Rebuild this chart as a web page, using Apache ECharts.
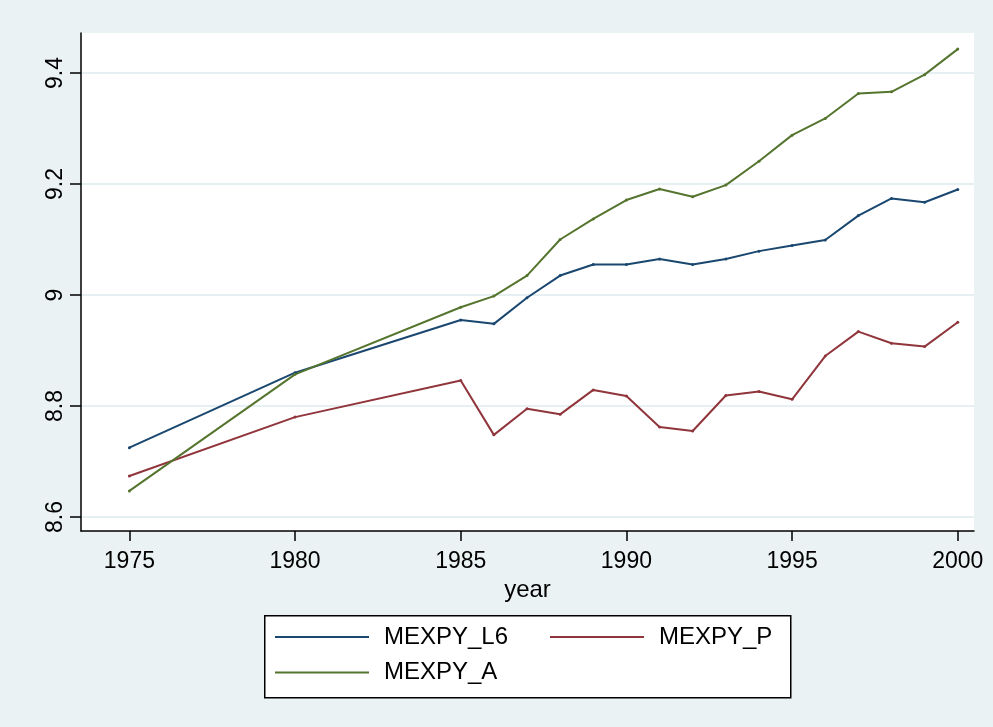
<!DOCTYPE html>
<html>
<head>
<meta charset="utf-8">
<title>MEXPY</title>
<script src="https://cdn.jsdelivr.net/npm/echarts@6/dist/echarts.min.js"></script>
<style>
  html, body { margin: 0; padding: 0; background: #eaf2f3; }
  #chart { width: 993px; height: 727px; }
</style>
</head>
<body>
<div id="chart"></div>
<script>
// data
const years = [1975, 1980, 1985, 1986, 1987, 1988, 1989, 1990, 1991, 1992, 1993, 1994, 1995, 1996, 1997, 1998, 1999, 2000];
const mexpyL6 = [8.725, 8.860, 8.955, 8.948, 8.995, 9.035, 9.055, 9.055, 9.065, 9.055, 9.065, 9.079, 9.089, 9.099, 9.143, 9.174, 9.167, 9.190];
const mexpyP = [8.674, 8.780, 8.846, 8.748, 8.795, 8.785, 8.829, 8.818, 8.762, 8.755, 8.819, 8.826, 8.812, 8.890, 8.934, 8.913, 8.907, 8.951];
const mexpyA = [8.647, 8.857, 8.978, 8.998, 9.035, 9.100, 9.137, 9.171, 9.191, 9.177, 9.198, 9.241, 9.288, 9.318, 9.363, 9.366, 9.397, 9.443];
const xTicks = [1975, 1980, 1985, 1990, 1995, 2000];
const yTicks = [8.6, 8.8, 9, 9.2, 9.4];

const font = "'Liberation Sans', Arial, sans-serif";

function pairs(vals) {
  return years.map((y, i) => [y, vals[i]]);
}

function lineSeries(name, vals, color) {
  return {
    name: name,
    type: "line",
    data: pairs(vals),
    symbol: "circle",
    symbolSize: 3,
    itemStyle: { color: color },
    lineStyle: { color: color, width: 2 },
    animation: false
  };
}

const chart = echarts.init(document.getElementById("chart"));
chart.setOption({
  backgroundColor: "#eaf2f3",
  textStyle: { fontFamily: font },
  grid: {
    left: 81,
    right: 19,
    top: 33,
    bottom: 196,
    show: true,
    backgroundColor: "#ffffff",
    borderWidth: 0
  },
  graphic: [
    {
      type: "rect",
      left: 264,
      top: 615,
      z: 0,
      shape: { width: 526, height: 82 },
      style: { fill: "#ffffff", stroke: "#000000", lineWidth: 1.5 }
    }
  ],
  legend: [
    {
      data: ["MEXPY_L6", "MEXPY_A"],
      orient: "vertical",
      left: 275,
      top: 625,
      padding: 0,
      itemGap: 11.4,
      itemWidth: 94,
      itemHeight: 2,
      icon: "rect",
      textStyle: { fontSize: 24, fontFamily: font, color: "#000", padding: [0, 0, 0, 10] }
    },
    {
      data: ["MEXPY_P"],
      left: 550,
      top: 625,
      padding: 0,
      itemWidth: 94,
      itemHeight: 2,
      icon: "rect",
      textStyle: { fontSize: 24, fontFamily: font, color: "#000", padding: [0, 0, 0, 10] }
    }
  ],
  xAxis: {
    type: "value",
    min: 1973.54,
    max: 2000.49,
    name: "year",
    nameLocation: "middle",
    nameGap: 43,
    nameTextStyle: { fontSize: 24, color: "#000", fontFamily: font },
    axisLine: { show: true, lineStyle: { color: "#000", width: 1.5 } },
    axisTick: { show: true, length: 10, lineStyle: { color: "#000", width: 1.5 }, customValues: xTicks },
    axisLabel: {
      fontSize: 23,
      color: "#000",
      margin: 19,
      customValues: xTicks,
      formatter: (v) => String(v)
    },
    splitLine: { show: false }
  },
  yAxis: {
    type: "value",
    min: 8.5748,
    max: 9.472,
    axisLine: { show: true, lineStyle: { color: "#000", width: 1.5 } },
    axisTick: { show: true, length: 11, lineStyle: { color: "#000", width: 1.5 }, customValues: yTicks },
    axisLabel: { fontSize: 23, color: "#000", margin: 14, rotate: 90, customValues: yTicks },
    splitLine: { show: true, lineStyle: { color: "#e6eff1", width: 2 } }
  },
  series: [
    lineSeries("MEXPY_L6", mexpyL6, "#1a476f"),
    lineSeries("MEXPY_P", mexpyP, "#90353b"),
    lineSeries("MEXPY_A", mexpyA, "#55752f")
  ]
});
</script>
</body>
</html>
